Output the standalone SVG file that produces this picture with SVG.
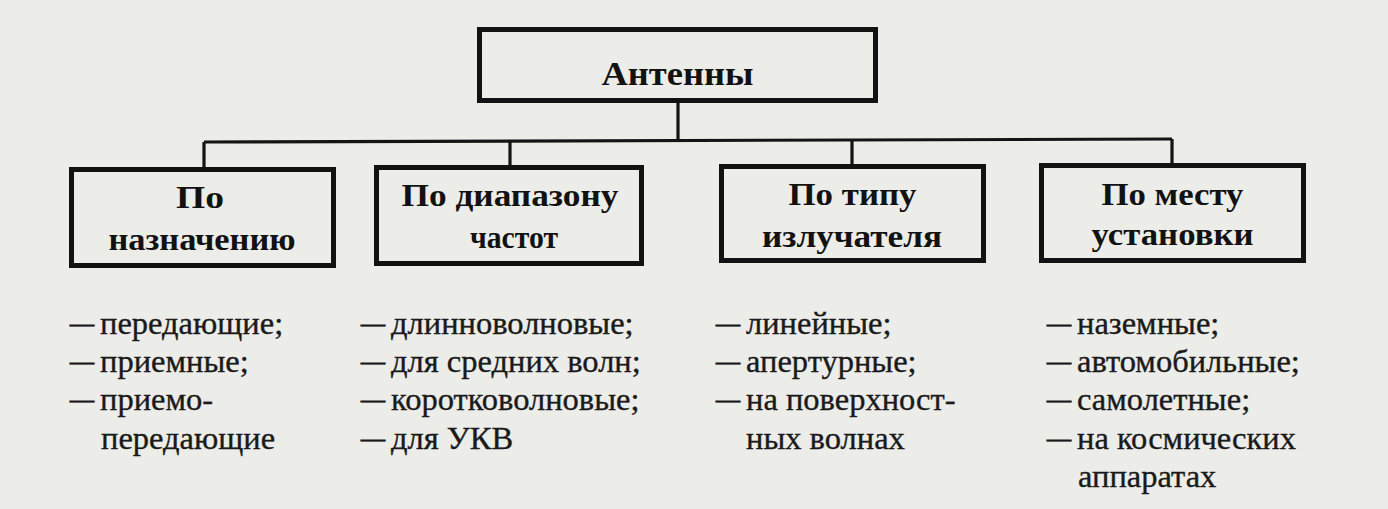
<svg xmlns="http://www.w3.org/2000/svg" width="1388" height="509" viewBox="0 0 1388 509">
<style>
.bg{fill:#ecece9}
.box{fill:none;stroke:#121212;stroke-width:5}
.con{fill:none;stroke:#141414;stroke-width:3.2}
.h{font-family:"Liberation Serif","Times New Roman",serif;font-weight:bold;font-size:31px;fill:#121212;text-anchor:middle}
.t{font-family:"Liberation Serif","Times New Roman",serif;font-weight:bold;font-size:33px;fill:#121212;text-anchor:middle}
.l{font-family:"Liberation Serif","Times New Roman",serif;font-size:32.5px;fill:#1a1a1a;stroke:#1a1a1a;stroke-width:0.35}
.d{font-size:24px;stroke-width:0.9}
</style>
<rect class="bg" x="0" y="0" width="1388" height="509"/>
<g id="connectors">
<path class="con" d="M678 103 V140"/>
<path class="con" d="M204 142 L1172 139"/>
<path class="con" d="M204 142 V167"/>
<path class="con" d="M510 141 V165"/>
<path class="con" d="M852 140 V164"/>
<path class="con" d="M1172 139 V163"/>
</g>
<g id="node-antenny">
<rect class="box" x="479.5" y="29.5" width="396" height="71"/>
<text class="t" x="677.5" y="85" textLength="152" lengthAdjust="spacingAndGlyphs">Антенны</text>
</g>
<g id="node-naznachenie">
<rect class="box" x="71.5" y="169.5" width="262" height="96"/>
<text class="h" x="200" y="208" textLength="48" lengthAdjust="spacingAndGlyphs">По</text>
<text class="h" x="202" y="250" textLength="187" lengthAdjust="spacingAndGlyphs">назначению</text>
</g>
<g id="node-diapazon">
<rect class="box" x="376.5" y="167.5" width="265" height="96"/>
<text class="h" x="510" y="206" textLength="217" lengthAdjust="spacingAndGlyphs">По диапазону</text>
<text class="h" x="514" y="248" textLength="88" lengthAdjust="spacingAndGlyphs">частот</text>
</g>
<g id="node-tip">
<rect class="box" x="721.5" y="166.5" width="262" height="94"/>
<text class="h" x="852.5" y="205" textLength="128" lengthAdjust="spacingAndGlyphs">По типу</text>
<text class="h" x="852" y="246.5" textLength="180" lengthAdjust="spacingAndGlyphs">излучателя</text>
</g>
<g id="node-mesto">
<rect class="box" x="1041.5" y="165.5" width="262" height="95"/>
<text class="h" x="1172.5" y="205" textLength="142" lengthAdjust="spacingAndGlyphs">По месту</text>
<text class="h" x="1172.5" y="245" textLength="162" lengthAdjust="spacingAndGlyphs">установки</text>
</g>
<g id="list-naznachenie">
<text class="l" x="70" y="334"><tspan class="d" dy="-3">—</tspan><tspan dx="6" dy="3">передающие;</tspan></text>
<text class="l" x="70" y="372"><tspan class="d" dy="-3">—</tspan><tspan dx="6" dy="3">приемные;</tspan></text>
<text class="l" x="70" y="410"><tspan class="d" dy="-3">—</tspan><tspan dx="6" dy="3">приемо-</tspan></text>
<text class="l" x="101" y="449">передающие</text>
</g>
<g id="list-diapazon">
<text class="l" x="361" y="334"><tspan class="d" dy="-3">—</tspan><tspan dx="6" dy="3">длинноволновые;</tspan></text>
<text class="l" x="361" y="372"><tspan class="d" dy="-3">—</tspan><tspan dx="6" dy="3">для средних волн;</tspan></text>
<text class="l" x="361" y="410"><tspan class="d" dy="-3">—</tspan><tspan dx="6" dy="3">коротковолновые;</tspan></text>
<text class="l" x="361" y="449"><tspan class="d" dy="-3">—</tspan><tspan dx="6" dy="3">для УКВ</tspan></text>
</g>
<g id="list-tip">
<text class="l" x="716" y="334"><tspan class="d" dy="-3">—</tspan><tspan dx="6" dy="3">линейные;</tspan></text>
<text class="l" x="716" y="372"><tspan class="d" dy="-3">—</tspan><tspan dx="6" dy="3">апертурные;</tspan></text>
<text class="l" x="716" y="410"><tspan class="d" dy="-3">—</tspan><tspan dx="6" dy="3">на поверхност-</tspan></text>
<text class="l" x="746" y="449">ных волнах</text>
</g>
<g id="list-mesto">
<text class="l" x="1047" y="334"><tspan class="d" dy="-3">—</tspan><tspan dx="6" dy="3">наземные;</tspan></text>
<text class="l" x="1047" y="372"><tspan class="d" dy="-3">—</tspan><tspan dx="6" dy="3">автомобильные;</tspan></text>
<text class="l" x="1047" y="410"><tspan class="d" dy="-3">—</tspan><tspan dx="6" dy="3">самолетные;</tspan></text>
<text class="l" x="1047" y="449"><tspan class="d" dy="-3">—</tspan><tspan dx="6" dy="3">на космических</tspan></text>
<text class="l" x="1078" y="487">аппаратах</text>
</g>
</svg>
